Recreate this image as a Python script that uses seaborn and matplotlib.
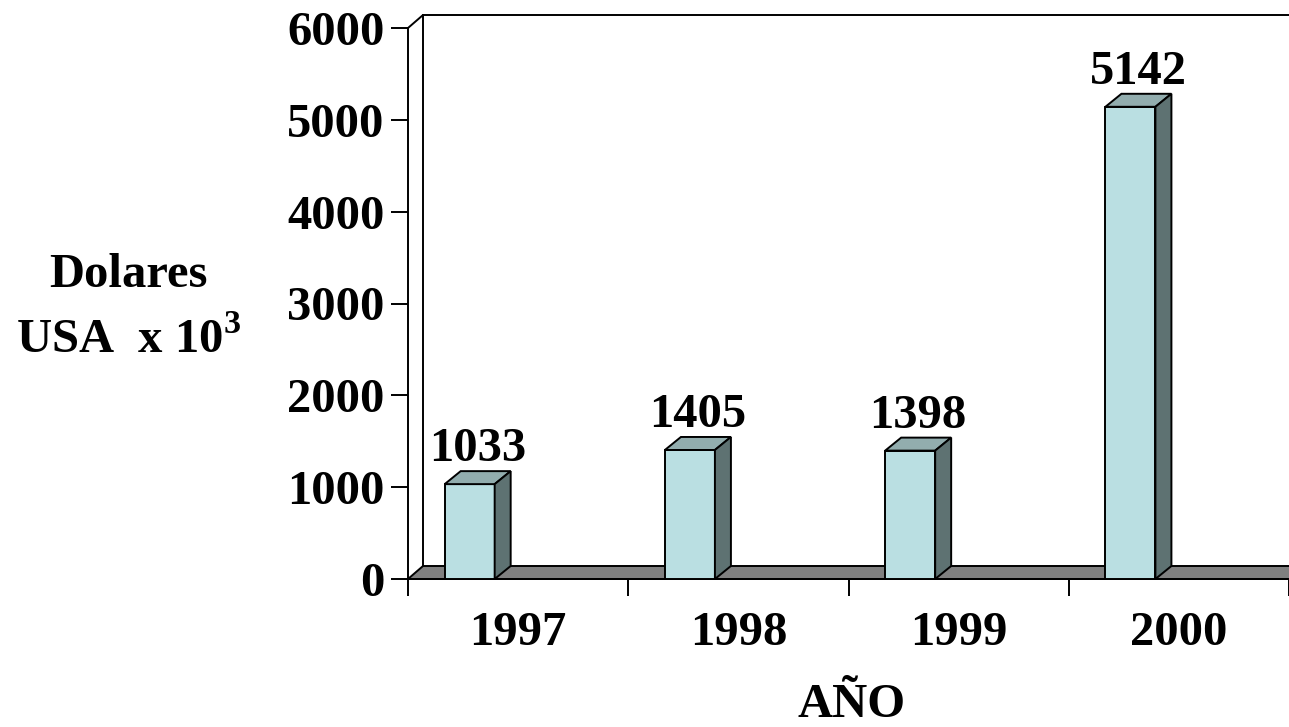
import matplotlib
matplotlib.use("Agg")
import matplotlib.pyplot as plt
import matplotlib.transforms as mtransforms
from matplotlib.patches import Polygon
import seaborn as sns
import pandas as pd

# Data
years = ["1997", "1998", "1999", "2000"]
dollars = [1033, 1405, 1398, 5142]
yticks = [0, 1000, 2000, 3000, 4000, 5000, 6000]

sns.set_theme(style="white")
plt.rcParams["font.family"] = ["Liberation Serif", "DejaVu Serif"]
plt.rcParams["font.weight"] = "bold"
plt.rcParams["text.color"] = "black"
plt.rcParams["xtick.labelcolor"] = "black"
plt.rcParams["ytick.labelcolor"] = "black"
plt.rcParams["mathtext.fontset"] = "custom"
plt.rcParams["mathtext.rm"] = "Liberation Serif:bold"
plt.rcParams["mathtext.bf"] = "Liberation Serif:bold"

FRONT = "#BADFE2"
TOP = "#92ADAE"
SIDE = "#5E7272"
FLOOR = "#808080"
FS = 35

W, H = 1289, 727
fig = plt.figure(figsize=(W / 100, H / 100), dpi=100)
ax = fig.add_axes([408 / W, (H - 579) / H, (W - 408) / W, (579 - 28) / H])

df = pd.DataFrame({"year": years, "usd": dollars})
sns.barplot(data=df, x="year", y="usd", color=FRONT, width=0.227,
            edgecolor="black", linewidth=1.4, saturation=1, ax=ax, zorder=3)

ax.set_xlim(-0.5, 3.5)
ax.set_ylim(0, 6000)

# pixel -> data conversions for the oblique depth
px_x = (W - 408) / 4.0          # pixels per category
px_y = (579 - 28) / 6000.0      # pixels per unit
fdx, fdy = 15 / px_x, 13 / px_y   # floor / walls depth
bdx, bdy = 16 / px_x, 13 / px_y   # bar depth

shift = mtransforms.Affine2D().translate(-0.22, 0) + ax.transData

# floor slab
floor = Polygon([(-0.5, 0), (4.5, 0), (4.5 + fdx, fdy), (-0.5 + fdx, fdy)],
                closed=True, facecolor=FLOOR, edgecolor="black",
                linewidth=1.4, zorder=1, clip_on=False)
ax.add_patch(floor)

# back wall outline
ax.plot([-0.5 + fdx, -0.5 + fdx], [fdy, 6000 + fdy], color="black",
        lw=1.4, clip_on=False, zorder=1)
ax.plot([-0.5, -0.5 + fdx], [6000, 6000 + fdy], color="black",
        lw=1.4, clip_on=False, zorder=1)
ax.plot([-0.5 + fdx, 4.5], [6000 + fdy, 6000 + fdy], color="black",
        lw=1.4, clip_on=False, zorder=1)

# bar faces
for bar, val in zip(ax.patches[:len(dollars)], dollars):
    bar.set_transform(shift)
    x0 = bar.get_x()
    x1 = x0 + bar.get_width()
    h = bar.get_height()
    top = Polygon([(x0, h), (x1, h), (x1 + bdx, h + bdy), (x0 + bdx, h + bdy)],
                  closed=True, facecolor=TOP, edgecolor="black",
                  linewidth=1.4, transform=shift, zorder=3, clip_on=False)
    side = Polygon([(x1, 0), (x1 + bdx, bdy), (x1 + bdx, h + bdy), (x1, h)],
                   closed=True, facecolor=SIDE, edgecolor="black",
                   linewidth=1.4, transform=shift, zorder=3, clip_on=False)
    ax.add_patch(top)
    ax.add_patch(side)
    ax.annotate(f"{val}", xy=((x0 + x1) / 2 + bdx / 2, h + bdy),
                xycoords=shift, xytext=(0, 7), textcoords="offset points",
                ha="center", va="baseline", fontsize=FS, fontweight="bold",
                color="black", zorder=4, annotation_clip=False)

# axes lines and ticks
for s in ["top", "right"]:
    ax.spines[s].set_visible(False)
for s in ["left", "bottom"]:
    ax.spines[s].set_color("black")
    ax.spines[s].set_linewidth(1.4)
    ax.spines[s].set_zorder(2)

ax.set_yticks(yticks)
ax.set_yticklabels([str(t) for t in yticks])
ax.set_xticks(range(len(years)))
ax.set_xticklabels(years)
ax.set_xticks([-0.5, 0.5, 1.5, 2.5, 3.5], minor=True)
ax.tick_params(axis="y", which="major", direction="out", length=12, width=1.4,
               color="black", labelsize=FS, pad=5, left=True,
               labelcolor="black")
ax.tick_params(axis="x", which="major", length=0, labelsize=FS, pad=23,
               labelcolor="black")
ax.tick_params(axis="x", which="minor", direction="out", length=12,
               width=1.4, color="black", bottom=True)
for lab in ax.get_xticklabels() + ax.get_yticklabels():
    lab.set_fontweight("bold")
ax.set_xlabel("")
ax.set_ylabel("")
ax.grid(False)

# axis titles
fig.text(128 / W, (H - 287) / H, "Dolares", ha="center", va="baseline",
         fontsize=FS, fontweight="bold", color="black")
fig.text(129 / W, (H - 353) / H, r"USA  x 10$^{3}$", ha="center",
         va="baseline", fontsize=FS, fontweight="bold", color="black")
fig.text(852 / W, (H - 717) / H, "AÑO", ha="center", va="baseline",
         fontsize=FS, fontweight="bold", color="black")

fig.savefig("out.png", dpi=100, facecolor="white")
